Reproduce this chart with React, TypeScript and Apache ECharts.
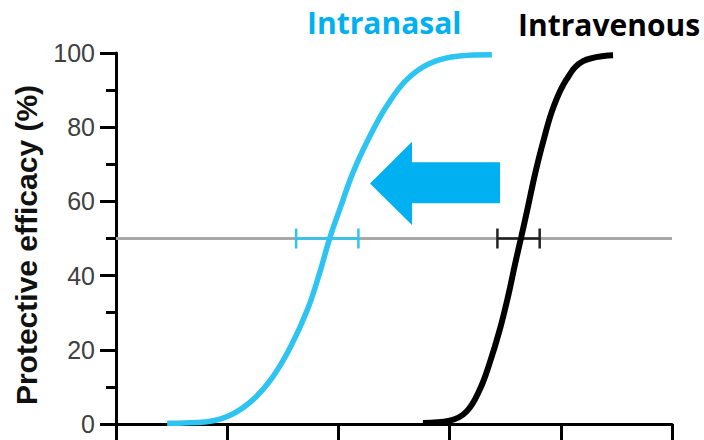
import React, { useEffect, useRef } from "react";
import * as echarts from "echarts";

// Dose axis in tick units (0..5), protective efficacy in %
const intranasalCurve: [number, number][] = [
  [0.46, 0.2], [0.82, 0.6], [1.03, 2.4], [1.23, 6.5], [1.41, 12.7], [1.57, 20.8],
  [1.72, 30.7], [1.83, 40.6], [1.92, 49.9], [2.01, 57.7], [2.13, 67.7], [2.28, 77.4],
  [2.43, 85.5], [2.61, 92.7], [2.82, 97.2], [3.09, 99.2], [3.38, 99.5],
];
const intravenousCurve: [number, number][] = [
  [2.76, 0.3], [3.0, 0.9], [3.15, 3.3], [3.27, 9.2], [3.36, 16.4], [3.45, 25.3],
  [3.525, 34.3], [3.59, 43.3], [3.645, 50.5], [3.705, 58.6], [3.77, 67.6], [3.845, 76.5],
  [3.935, 85.5], [4.05, 92.8], [4.2, 97.8], [4.47, 99.4],
];
// [low, high, level]
const intranasalCI: [number, number, number][] = [[1.62, 2.18, 50]];
const intravenousCI: [number, number, number][] = [[3.43, 3.81, 50]];
const referenceLine: [number, number][] = [[0, 50], [5, 50]];
const labels = ["Intranasal", "Intravenous"];
const yAxisTitle = "Protective efficacy (%)";

const CYAN = "#2ec4f1";
const ARROW = "#00b0f0";

function errorBar(color: string) {
  return (params: any, api: any) => {
    const lo = api.coord([api.value(0), api.value(2)]);
    const hi = api.coord([api.value(1), api.value(2)]);
    const cap = 10;
    const style = { stroke: color, lineWidth: 2.5 };
    return {
      type: "group",
      children: [
        { type: "line", shape: { x1: lo[0], y1: lo[1], x2: hi[0], y2: hi[1] }, style },
        { type: "line", shape: { x1: lo[0], y1: lo[1] - cap, x2: lo[0], y2: lo[1] + cap }, style },
        { type: "line", shape: { x1: hi[0], y1: hi[1] - cap, x2: hi[0], y2: hi[1] + cap }, style },
      ],
    };
  };
}

export default function App() {
  const ref = useRef<HTMLDivElement>(null);
  useEffect(() => {
    if (!ref.current) return;
    const chart = echarts.init(ref.current, null, { renderer: "svg" });
    chart.setOption({
      animation: false,
      backgroundColor: "#ffffff",
      grid: { left: 116, right: 32, top: 53, bottom: 16, containLabel: false },
      xAxis: {
        type: "value",
        min: 0,
        max: 5,
        interval: 1,
        axisLine: { show: true, lineStyle: { color: "#000", width: 3 } },
        axisTick: { show: true, length: 22, lineStyle: { color: "#000", width: 3 } },
        axisLabel: { show: false },
        splitLine: { show: false },
      },
      yAxis: {
        type: "value",
        min: 0,
        max: 100,
        interval: 20,
        axisLine: { show: true, lineStyle: { color: "#000", width: 3 } },
        axisTick: { show: true, length: 16, lineStyle: { color: "#000", width: 3 } },
        minorTick: { show: true, splitNumber: 2, length: 10, lineStyle: { color: "#000", width: 3 } },
        axisLabel: {
          margin: 21,
          fontFamily: "Liberation Sans",
          fontSize: 25,
          color: "#404040",
        },
        splitLine: { show: false },
      },
      graphic: [
        {
          type: "text",
          x: 26,
          y: 245,
          rotation: Math.PI / 2,
          style: {
            text: yAxisTitle,
            fontFamily: "Liberation Sans",
            fontWeight: "bold",
            fontSize: 30,
            fill: "#111",
            textAlign: "center",
            textVerticalAlign: "middle",
          },
        },
        {
          type: "text",
          x: 307,
          y: 22,
          style: {
            text: labels[0],
            fontFamily: "Open Sans",
            fontWeight: "bold",
            fontSize: 30,
            fill: ARROW,
            textAlign: "left",
            textVerticalAlign: "middle",
          },
        },
        {
          type: "text",
          x: 518,
          y: 24,
          style: {
            text: labels[1],
            fontFamily: "Open Sans",
            fontWeight: "bold",
            fontSize: 30,
            fill: "#000",
            textAlign: "left",
            textVerticalAlign: "middle",
          },
        },
        {
          type: "polygon",
          shape: {
            points: [
              [370, 183.5], [412, 141.7], [412, 162.3], [500, 162.3],
              [500, 203.3], [412, 203.3], [412, 225],
            ],
          },
          style: { fill: ARROW },
        },
      ],
      series: [
        {
          type: "line",
          data: referenceLine,
          symbol: "none",
          lineStyle: { color: "#a8a8a8", width: 3 },
          z: 1,
        },
        {
          type: "custom",
          data: intranasalCI,
          renderItem: errorBar(CYAN),
          z: 2,
        },
        {
          type: "custom",
          data: intravenousCI,
          renderItem: errorBar("#222"),
          z: 2,
        },
        {
          type: "line",
          data: intranasalCurve,
          symbol: "none",
          smooth: 0.4,
          lineStyle: { color: CYAN, width: 5.5 },
          z: 3,
        },
        {
          type: "line",
          data: intravenousCurve,
          symbol: "none",
          smooth: 0.4,
          lineStyle: { color: "#000", width: 6 },
          z: 3,
        },
      ],
    });
    return () => chart.dispose();
  }, []);
  return (
    <div
      ref={ref}
      style={{ position: "fixed", left: 0, top: 0, width: 704, height: 440 }}
    />
  );
}
